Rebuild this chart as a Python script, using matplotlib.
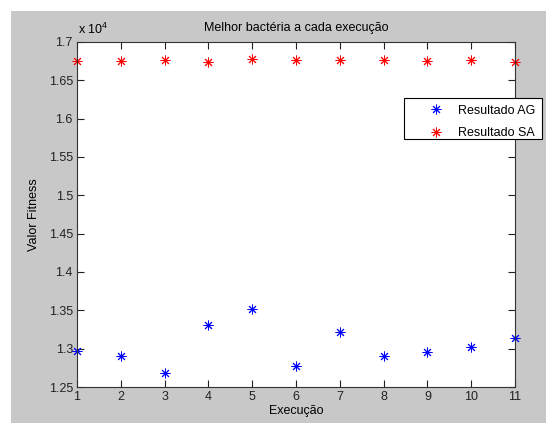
import numpy as np
import matplotlib
matplotlib.use('Agg')
import matplotlib.pyplot as plt
from matplotlib.patches import Rectangle
from matplotlib.ticker import FuncFormatter

plt.rcParams['font.family'] = ['Liberation Sans', 'DejaVu Sans']
plt.rcParams['mathtext.fontset'] = 'custom'
plt.rcParams['mathtext.rm'] = 'Liberation Sans'

execucoes = np.arange(1, 12)
resultado_ag = [12970, 12904, 12683, 13309, 13517, 12774, 13213, 12904, 12952, 13026, 13135]
resultado_sa = [16756, 16748, 16765, 16735, 16782, 16765, 16762, 16762, 16752, 16765, 16739]
yticks = np.arange(12500, 17001, 500)

W, H = 546, 423
fig = plt.figure(figsize=(W / 100, H / 100), dpi=100, facecolor='white')
# gray MATLAB-like figure area with a thin white margin top/left
fig.patches.append(Rectangle((11 / W, 0), 1 - 11 / W, 1 - 11 / H,
                             transform=fig.transFigure, facecolor='#c8c8c8',
                             edgecolor='none', zorder=-5))

ax = fig.add_axes([77 / W, 1 - 387 / H, (515 - 77) / W, (387 - 42) / H])
ax.set_facecolor('white')

ast = (8, 2, 0)
ax.plot(execucoes, resultado_ag, linestyle='none', marker=ast, markersize=7,
        markeredgewidth=0.7, color='blue', label='Resultado AG', clip_on=False)
ax.plot(execucoes, resultado_sa, linestyle='none', marker=ast, markersize=7,
        markeredgewidth=0.7, color='red', label='Resultado SA', clip_on=False)

ax.set_xlim(1, 11)
ax.set_ylim(12500, 17000)
ax.set_xticks(execucoes)
ax.set_yticks(yticks)
ax.yaxis.set_major_formatter(FuncFormatter(lambda v, p: '%g' % (v / 1e4)))
ax.tick_params(direction='in', top=True, right=True, length=5, width=0.8,
               labelsize=9, colors='#222222', pad=3)
for s in ax.spines.values():
    s.set_color('#333333')
    s.set_linewidth(0.8)

ax.set_title('Melhor bactéria a cada execução', fontsize=9, pad=8)
ax.set_xlabel('Execução', fontsize=9, labelpad=1)
ax.set_ylabel('Valor Fitness', fontsize=9, labelpad=6)
fig.text(78 / W, 1 - 34 / H, r'x 10$^{\mathrm{4}}$', fontsize=9, ha='left', va='baseline')

# legend box drawn separately so it can stick out past the axes like in MATLAB
fig.patches.append(Rectangle((404 / W, 1 - 139 / H), (542 - 404) / W, (139 - 98) / H,
                             transform=fig.transFigure, facecolor='white',
                             edgecolor='black', linewidth=0.8, zorder=5))
handles, labels = ax.get_legend_handles_labels()
leg = fig.legend(handles, labels, loc='upper left', bbox_to_anchor=(423.5 / W, 1 - 104.5 / H),
                 bbox_transform=fig.transFigure, fontsize=9, frameon=False,
                 handlelength=2, handletextpad=0.76, borderpad=0,
                 labelspacing=0.88, borderaxespad=0)
leg.set_zorder(6)

fig.savefig('out.png', dpi=100, facecolor='white')
